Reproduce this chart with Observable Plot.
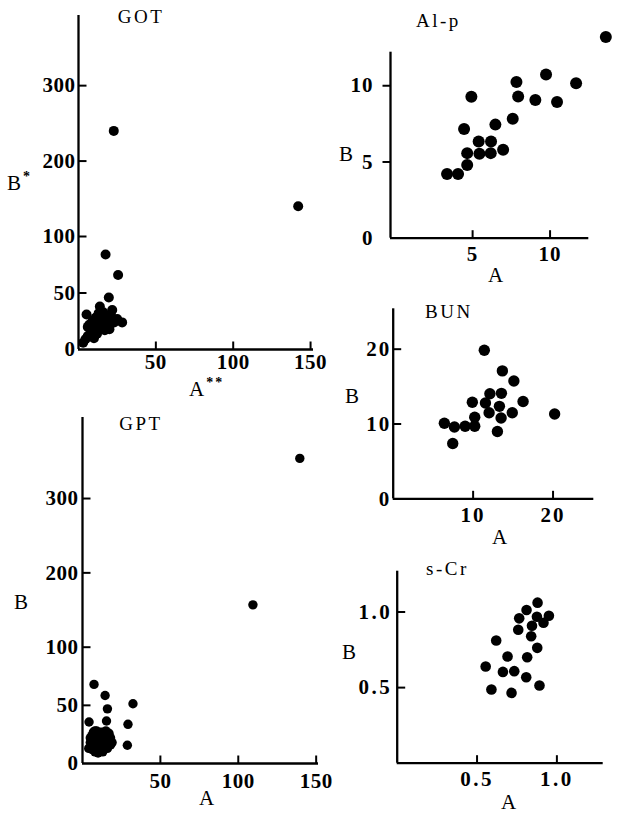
<!DOCTYPE html>
<html>
<head>
<meta charset="utf-8">
<script src="https://cdn.jsdelivr.net/npm/d3@7"></script>
<script src="https://cdn.jsdelivr.net/npm/@observablehq/plot@0.6"></script>
<style>
  body { margin: 0; background: #fff; }
  #root { position: relative; width: 621px; height: 815px; overflow: hidden; background: #fff; }
  .panel { position: absolute; }
  #overlay { position: absolute; left: 0; top: 0; pointer-events: none; }
</style>
</head>
<body>
<div id="root"></div>
<script>
// ---------- DATA ----------
const gotA = [22.8, 142, 17.5, 25.6, 19.6, 13.8, 21.8, 5.2, 28.2, 3, 4.5, 6, 8, 10, 12, 14, 16, 18, 20, 23, 9, 7, 11, 13, 15, 17, 19, 12, 6, 10, 16, 14, 25, 21];
const gotB = [240, 140, 84, 66, 46, 38, 35, 31, 24, 6, 9, 12, 15, 18, 20, 22, 25, 21, 18, 24, 25, 22, 28, 32, 30, 17, 27, 14, 20, 10, 33, 27, 27, 30];
const gptA = [139.5, 109.4, 7.4, 14.5, 32.4, 16, 4.2, 15.4, 29.2, 28.8, 5, 7, 8, 9, 10, 11, 12, 13, 14, 15, 16, 17, 6, 10, 12, 18, 4, 8, 11, 14, 9, 13, 17, 7, 16, 5, 18, 19, 17, 15, 8, 13, 6];
const gptB = [354, 157, 68, 58.5, 51.4, 47, 35.7, 36.5, 33.7, 15.7, 18, 15, 22, 12, 19, 25, 16, 21, 14, 24, 18, 20, 24, 9, 27, 16, 13, 10, 12, 19, 28, 26, 24, 27, 13, 22, 22, 18, 26, 28, 28, 10, 12];
const alpA = [13.6, 7.83, 9.74, 11.68, 4.92, 7.94, 9.05, 10.45, 7.59, 6.47, 4.45, 5.39, 6.19, 6.97, 4.65, 5.44, 6.17, 4.65, 3.35, 4.06];
const alpB = [13.2, 10.24, 10.74, 10.16, 9.28, 9.3, 9.07, 8.93, 7.84, 7.45, 7.17, 6.34, 6.34, 5.8, 5.58, 5.54, 5.58, 4.8, 4.21, 4.21];
const bunA = [11.4, 13.66, 15.1, 12.1, 13.54, 16.25, 9.9, 11.54, 13.29, 12, 14.9, 13.5, 10.2, 20.2, 6.4, 7.66, 9, 10.2, 13.04, 7.45];
const bunB = [19.85, 17.1, 15.75, 14.05, 14.1, 13, 12.9, 12.8, 12.36, 11.5, 11.5, 10.8, 10.9, 11.33, 10.1, 9.6, 9.7, 9.7, 9, 7.4];
const scrA = [0.879, 0.81, 0.764, 0.95, 0.875, 0.916, 0.844, 0.758, 0.839, 0.62, 0.877, 0.691, 0.814, 0.554, 0.662, 0.733, 0.808, 0.891, 0.59, 0.716];
const scrB = [1.062, 1.013, 0.958, 0.975, 0.969, 0.929, 0.909, 0.883, 0.84, 0.812, 0.763, 0.706, 0.701, 0.64, 0.604, 0.609, 0.569, 0.514, 0.487, 0.465];

const gotTicksX = [50, 100, 150];
const gotTicksY = [0, 50, 100, 200, 300];
const gptTicksX = [50, 100, 150];
const gptTicksY = [0, 50, 100, 200, 300];
const alpTicksX = [5, 10];
const alpTicksY = [0, 5, 10];
const bunTicksX = [10, 20];
const bunTicksY = [0, 10, 20];
const scrTicksX = [0.5, 1.0];
const scrTicksY = [0.5, 1.0];

const titles = ["GOT", "GPT", "Al-p", "BUN", "s-Cr"];
const yLabels = [["B", "*"], ["B", ""], ["B", ""], ["B", ""], ["B", ""]];
const xLabels = [["A", "**"], ["A", ""], ["A", ""], ["A", ""], ["A", ""]];

// ---------- LAYOUT ----------
const FONT = "'Liberation Serif', 'Times New Roman', serif";
const fmtInt = d3.format("d");
const fmt1 = d3.format(".1f");

const panels = [
  { left: 0, top: 0, width: 330, height: 400, axX: 78, axY: 349, top0: 15, right0: 313,
    xDomain: [0, 151.9], yDomain: [0, 100, 393], yRange: [349, 236, 15],
    xTicks: gotTicksX, yTicks: gotTicksY, fmt: fmtInt, A: gotA, B: gotB, r: 5,
    xOff: 5, yIn: true, yGap: 3, ls: 0.5 },
  { left: 0, top: 400, width: 330, height: 415, axX: 82, axY: 363, top0: 17, right0: 318,
    xDomain: [0, 151.5], yDomain: [0, 100, 409], yRange: [363, 246.7, 17],
    xTicks: gptTicksX, yTicks: gptTicksY, fmt: fmtInt, A: gptA, B: gptB, r: 4.7,
    xOff: 10, yIn: true, yGap: 4, ls: 0.5 },
  { left: 330, top: 0, width: 291, height: 270, axX: 60, axY: 237.7, top0: 51.7, right0: 258.3,
    xDomain: [-0.3, 12.5], yDomain: [0, 12.2],
    xTicks: alpTicksX, yTicks: alpTicksY, fmt: fmtInt, A: alpA, B: alpB, r: 6,
    xOff: 8, yIn: false, yGap: 9, ls: 1 },
  { left: 330, top: 270, width: 291, height: 260, axX: 62.7, axY: 228.3, top0: 38.3, right0: 263.3,
    xDomain: [0, 25.1], yDomain: [0, 25.4],
    xTicks: bunTicksX, yTicks: bunTicksY, fmt: fmtInt, A: bunA, B: bunB, r: 5.7,
    xOff: 8, yIn: true, yGap: 2, ls: 2 },
  { left: 330, top: 530, width: 291, height: 285, axX: 66.7, axY: 232.7, top0: 40.7, right0: 272.7,
    xDomain: [0, 1.29], yDomain: [0, 1.27],
    xTicks: scrTicksX, yTicks: scrTicksY, fmt: fmt1, A: scrA, B: scrB, r: 5.3,
    xOff: 8, yIn: true, yGap: 5, ls: 2.5 }
];

const root = document.getElementById("root");
const TICK = 8;

panels.forEach((p) => {
  const yRange = p.yRange || [p.axY, p.top0];
  const xRange = [p.axX, p.right0];
  const ys = d3.scaleLinear().domain(p.yDomain).range(yRange);
  const xs = d3.scaleLinear().domain(p.xDomain).range(xRange);
  const y0 = p.yDomain[0], x0 = p.xDomain[0];
  const yTickEnd = ys.invert(p.axY - TICK);
  const xTickEnd = xs.invert(p.axX + (p.yIn ? TICK : -TICK));
  const xTickRows = p.xTicks.map((v) => ({ v, a: y0, b: yTickEnd }));
  const yTickRows = p.yTicks.filter((d) => d !== 0).map((v) => ({ v, a: x0, b: xTickEnd }));
  const chart = Plot.plot({
    width: p.width,
    height: p.height,
    marginLeft: p.axX,
    marginRight: p.width - p.right0,
    marginTop: p.top0,
    marginBottom: p.height - p.axY,
    style: { fontFamily: FONT, fontSize: "21px", fontWeight: "bold", color: "#000", background: "transparent", overflow: "visible", letterSpacing: p.ls + "px" },
    x: { type: "linear", domain: p.xDomain, range: xRange },
    y: { type: "linear", domain: p.yDomain, range: yRange },
    marks: [
      Plot.ruleY([y0], { stroke: "#000", strokeWidth: 2.3 }),
      Plot.ruleX([x0], { stroke: "#000", strokeWidth: 2.3 }),
      Plot.link(xTickRows, { x1: "v", x2: "v", y1: "a", y2: "b", stroke: "#000", strokeWidth: 2 }),
      Plot.link(yTickRows, { y1: "v", y2: "v", x1: "a", x2: "b", stroke: "#000", strokeWidth: 2 }),
      Plot.axisX(p.xTicks, { anchor: "bottom", tickSize: 0, tickPadding: p.xOff, tickFormat: p.fmt, label: null }),
      Plot.axisY(p.yTicks, { anchor: "left", tickSize: 0, tickPadding: p.yGap + (p.yIn ? 0 : TICK), tickFormat: p.fmt, label: null }),
      Plot.dot(p.A, { x: p.A, y: p.B, r: p.r, fill: "#000", stroke: "none" })
    ]
  });
  const div = document.createElement("div");
  div.className = "panel";
  div.style.left = p.left + "px";
  div.style.top = p.top + "px";
  div.appendChild(chart);
  root.appendChild(div);
});

// ---------- TEXT OVERLAY ----------
const textPos = [
  { t: [141, 23, "middle"], b: [7, 190], a: [189, 396] },
  { t: [141, 430, "middle"], b: [14, 609], a: [199, 805] },
  { t: [416, 27, "start"], b: [339, 161], a: [488, 282] },
  { t: [425, 318, "start"], b: [345, 403], a: [492, 544] },
  { t: [426, 575, "start"], b: [342, 659], a: [501, 809] }
];
const NS = "http://www.w3.org/2000/svg";
const ov = document.createElementNS(NS, "svg");
ov.setAttribute("id", "overlay");
ov.setAttribute("width", 621);
ov.setAttribute("height", 815);
ov.style.fontFamily = FONT;
root.appendChild(ov);

function addText(str, sup, x, yb, anchor, size, weight, spacing) {
  const t = document.createElementNS(NS, "text");
  t.setAttribute("x", x);
  t.setAttribute("y", yb);
  t.setAttribute("text-anchor", anchor);
  t.setAttribute("font-size", size);
  t.setAttribute("font-weight", weight);
  t.setAttribute("letter-spacing", spacing);
  t.setAttribute("fill", "#000");
  t.textContent = str;
  if (sup) {
    const s = document.createElementNS(NS, "tspan");
    s.setAttribute("font-size", 14);
    s.setAttribute("font-weight", "bold");
    s.setAttribute("dy", -9);
    s.setAttribute("dx", 2);
    s.setAttribute("letter-spacing", 2);
    s.textContent = sup;
    t.appendChild(s);
  }
  ov.appendChild(t);
}

textPos.forEach((tp, i) => {
  addText(titles[i], "", tp.t[0], tp.t[1], tp.t[2], 19, "normal", 2.5);
  addText(yLabels[i][0], yLabels[i][1], tp.b[0], tp.b[1], "start", 21, "normal", 0);
  addText(xLabels[i][0], xLabels[i][1], tp.a[0], tp.a[1], "start", 21, "normal", 0);
});
</script>
</body>
</html>
